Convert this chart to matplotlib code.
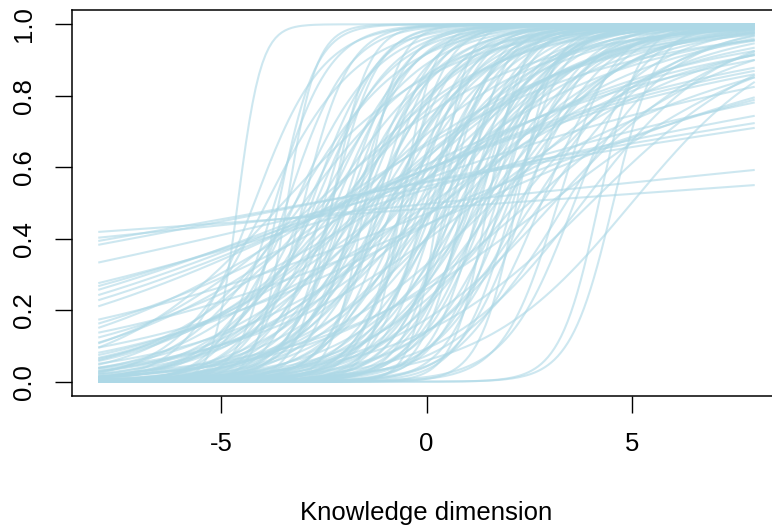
import matplotlib.pyplot as plt
import numpy as np

# item parameters: slope (a) and location (b) of each curve
flat_a = [0.033, 0.048, 0.083, 0.09, 0.11, 0.14, 0.16, 0.18, 0.19, 0.20, 0.22,
          0.18, 0.25, 0.30, 0.20, 0.28, 0.35, 0.25, 0.30, 0.40, 0.35, 0.45]
flat_b = [1.9, 0.2, -2.8, -2.7, -1.7, -1.1, -1.7, -2.1, -2.0, -1.9, -2.0,
          0.67, -1.44, -2.23, 1.2, -1.0, -2.0, 1.0, 0.1, -1.4, 0.4, -0.9]

mid_a = [0.5, 0.6, 0.4, 0.7, 0.55, 0.45, 0.65, 0.75, 0.5, 0.35, 0.6, 0.7, 0.45,
         0.55, 0.8, 0.4, 0.65, 0.5, 0.75, 0.35, 0.6, 0.45, 0.7, 0.55, 0.4, 0.65,
         0.5, 0.75, 0.55, 0.45, 0.6, 0.35, 0.7, 0.5, 0.6, 0.4, 0.8, 0.65, 0.5, 0.75]
mid_b = [-3.5, -3.0, -2.7, -2.4, -2.1, -1.8, -1.5, -1.2, -1.0, -0.8, -0.6, -0.4, -0.2,
         0.0, 0.2, 0.4, 0.6, 0.8, 1.0, 1.2, 1.4, 1.6, 1.9, 2.2, 2.5, 2.8,
         3.1, 3.4, 5.0, 4.0, 3.8, 3.0, -1.9, -2.5, 0.3, -1.3, -0.9, 1.7, -0.5, -3.2]

steep_a = [1.2, 0.9, 1.5, 1.0, 1.8, 1.3, 0.8, 1.6, 1.1, 1.4, 0.9, 1.7, 1.2, 1.0,
           1.5, 0.85, 1.3, 1.9, 1.1, 1.4, 0.9, 1.6, 1.2, 1.0, 1.8, 1.3, 0.9, 1.5,
           1.1, 1.7, 1.2, 1.4, 1.0, 1.6, 1.3, 1.1, 1.5, 1.2, 1.8, 1.0, 1.3, 1.6,
           0.95, 1.25, 1.45, 1.05, 1.35, 1.15,
           1.0, 0.7, 1.3, 0.9, 1.6, 0.8, 1.1, 0.7, 1.4, 0.9, 1.2, 0.8, 1.0, 0.7,
           1.5, 1.1, 0.85, 1.25, 0.95, 0.75]
steep_b = [-4.2, -3.9, -3.7, -3.2, -3.0, -2.8, -2.6, -2.5, -2.2, -2.0, -1.9, -1.7,
           -1.5, -1.3, -1.1, -1.0, -0.8, -0.6, -0.5, -0.3, -0.2, 0.0, 0.2, 0.4,
           0.5, 0.7, 0.8, 1.0, 1.2, 1.3, 1.5, 1.7, 1.9, 2.1, 2.4, 2.8, 3.2, 3.6,
           -2.3, -0.9, 0.1, 1.8, -2.9, -1.6, 0.3, 0.9, -3.4, 2.0,
           -2.4, -2.0, -1.9, -1.4, -1.2, -0.7, -0.1, 0.1, 0.6, 1.1, 1.4, 1.6,
           2.3, 2.6, -0.4, -2.7, 0.5, 1.1, -1.7, 1.3]

sharp_a = [3.5, 2.8, 2.2, 2.5, 3.0, 2.4, 1.9, 2.1, 2.3, 2.0, 2.6, 2.2]
sharp_b = [-4.6, -3.4, -3.6, -1.5, 0.3, 1.5, 4.55, 4.2, -2.3, 0.9, -0.6, 2.2]

slopes = flat_a + mid_a + steep_a + sharp_a
locations = flat_b + mid_b + steep_b + sharp_b

theta = np.linspace(-8, 8, 201)

plt.rcParams['font.family'] = ['Liberation Sans', 'DejaVu Sans']

fig = plt.figure(figsize=(7.72, 5.27), dpi=100)
ax = fig.add_axes([72 / 772, 131 / 527, 709 / 772, 386 / 527])

for a, b in zip(slopes, locations):
    p = 1 / (1 + np.exp(-a * (theta - b)))
    ax.plot(theta, p, color='#ADD8E6', alpha=0.6, lw=1.5, solid_capstyle='butt')

ax.set_xlim(-8.64, 8.64)
ax.set_ylim(-0.04, 1.04)
ax.set_xticks([-5, 0, 5])
ax.set_xticklabels(['-5', '0', '5'])
ax.set_yticks([0, 0.2, 0.4, 0.6, 0.8, 1.0])
ax.set_yticklabels(['0.0', '0.2', '0.4', '0.6', '0.8', '1.0'])
ax.tick_params(length=12, width=1.0, labelsize=18.5, pad=14)
for lbl in ax.get_yticklabels():
    lbl.set_rotation(90)
    lbl.set_va('center')

for s in ax.spines.values():
    s.set_linewidth(1.1)

ax.set_xlabel('Knowledge dimension', fontsize=18.5, labelpad=32)

plt.savefig('out.png', dpi=100)
